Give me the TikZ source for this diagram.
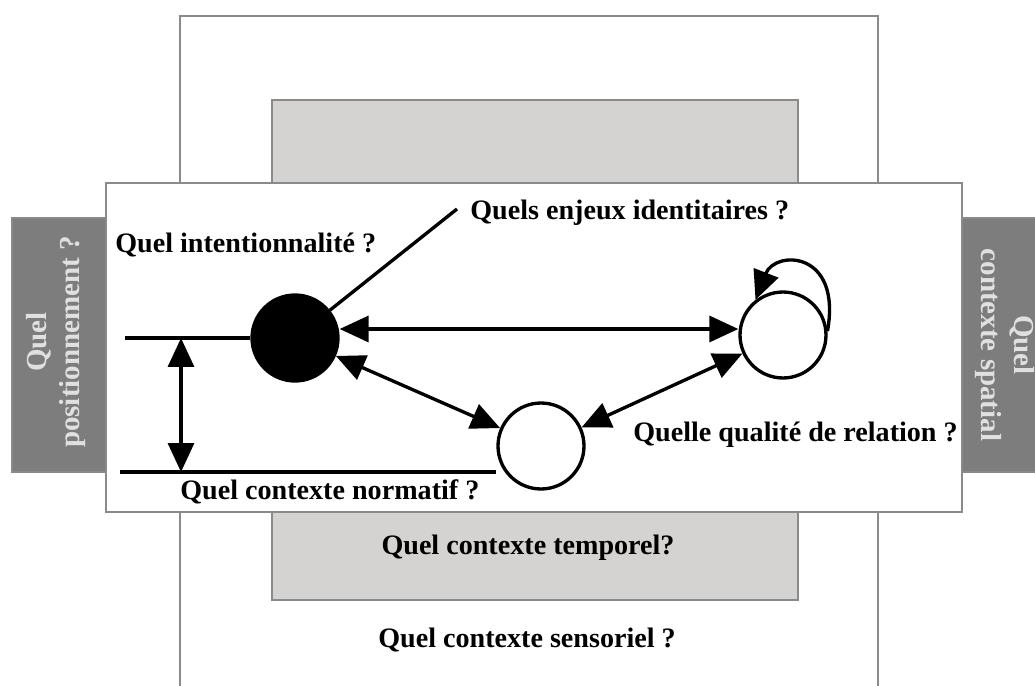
\documentclass[tikz,border=0pt]{standalone}
\usepackage{fontspec}
\setmainfont{Liberation Serif}
\usetikzlibrary{arrows.meta}
\definecolor{darkbox}{HTML}{7D7D7D}
\definecolor{lightbox}{HTML}{D5D3D1}
\definecolor{boxline}{HTML}{8A8A8A}
\definecolor{sidetext}{HTML}{E0E0E0}
\tikzset{
  px/.style={x=0.02cm,y=-0.02cm},
  lbl/.style={font=\bfseries\fontsize{16}{18}\selectfont, inner sep=0pt},
  sidelbl/.style={font=\bfseries\fontsize{16.5}{19}\selectfont, text=sidetext, align=center, inner sep=0pt},
  circ/.style={circle, draw=black, line width=1.9pt, minimum size=1.72cm, inner sep=0pt},
  conn/.style={line width=1.9pt},
  dbl/.style={line width=1.9pt, {Triangle[length=0.58cm,width=0.52cm]}-{Triangle[length=0.58cm,width=0.52cm]}},
  sgl/.style={line width=1.9pt, -{Triangle[length=0.58cm,width=0.52cm]}},
}
\begin{document}
\begin{tikzpicture}[px]
\useasboundingbox (0,0) rectangle (1035,686);
\clip (0,0) rectangle (1035,686);
\fill[white] (0,0) rectangle (1035,686);
% outer sensoriel frame
\draw[boxline, line width=0.8pt, fill=white] (180,700) -- (180,16) -- (878,16) -- (878,700);
% temporal light box
\draw[boxline, line width=0.8pt, fill=lightbox] (272,100) rectangle (798,600);
% side dark boxes
\draw[boxline, line width=0.8pt, fill=darkbox] (12,218) rectangle (106,472);
\draw[boxline, line width=0.8pt, fill=darkbox] (962,218) rectangle (1050,472);
% main box
\draw[boxline, line width=0.8pt, fill=white] (106,183) rectangle (962,512);
% side labels
\node[sidelbl, rotate=90] (pos) at (56,342) {Quel\\positionnement ?};
\node[sidelbl, rotate=-90] (spa) at (1005,345) {Quel\\contexte spatial};
% circles
\node[circ, fill=black] (me) at (295,338) {};
\node[circ, fill=white] (rc) at (783,335) {};
\node[circ, fill=white] (bc) at (541,446) {};
% labels
\node[lbl, anchor=west] (intent) at (115,245) {Quel intentionnalité ?};
\node[lbl, anchor=west] (enjeux) at (470,213) {Quels enjeux identitaires ?};
\node[lbl, anchor=west] (qual) at (633,435) {Quelle qualité de relation ?};
\node[lbl, anchor=west] (norm) at (180,492) {Quel contexte normatif ?};
\node[lbl] (temp) at (528,548) {Quel contexte temporel?};
\node[lbl] (sens) at (527,640) {Quel contexte sensoriel ?};
% coordinates
\coordinate (enjeuxend) at (457,209);
\coordinate (topl) at (125,338);
\coordinate (botl) at (120,472);
\coordinate (va) at (181,338);
\coordinate (vb) at (181,472);
% connectors
\draw[conn] (me) -- (enjeuxend);
\draw[conn] (topl) -- (me.west);
\draw[conn] (botl) -- (bc.west |- botl);
\draw[dbl] (va) -- (vb);
\draw[dbl] (me.east |- 0,329) -- (rc.west |- 0,329);
\draw[dbl] (me) -- (bc);
\draw[dbl] (bc) -- (rc);
\draw[sgl] (rc.5) .. controls (842,250) and (775,250) .. (rc.128);
\end{tikzpicture}
\end{document}
